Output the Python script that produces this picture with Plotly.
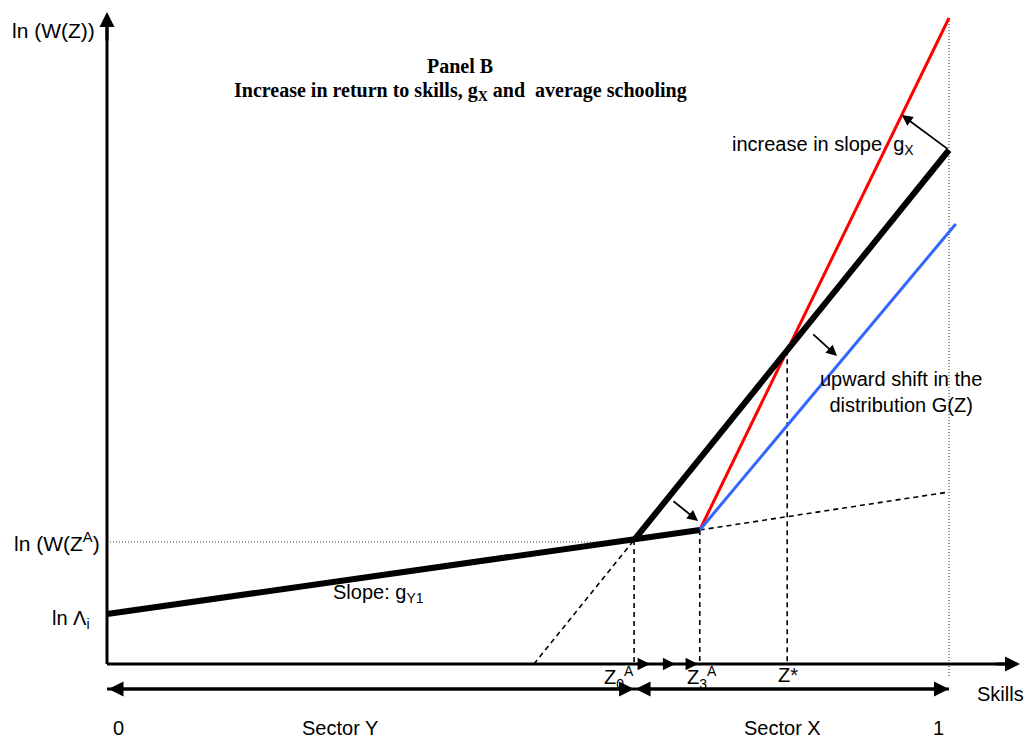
import plotly.graph_objects as go

# ---- schematic values (x: skills 0..1, y: ln wage, arbitrary units) ----
ln_lambda = 0.50           # intercept ln Λi
z0A = 0.626                # Z0^A
z3A = 0.704                # Z3^A
y_z0 = 1.24                # ln W at Z0^A
y_z3 = 1.34                # ln W at Z3^A
y_sectorY_end = 1.72       # extension of sector-Y line at skill 1
y_black_top = 5.14         # old sector-X schedule at skill 1
y_red_top = 6.46           # steeper (higher g_X) schedule at skill 1
blue_end_x = 1.008
blue_end_y = 4.40          # shifted-distribution schedule end
y_wza = 1.22               # dotted ln W(Z^A) reference level
y_axis_top = 6.52
x_axis_end = 1.0843
sector_arrow_y = -0.25
axis_arrow_marks = [0.645, 0.675, 0.702]

# lower (sector Y) thick line
sy_x = [0.0, z0A, z3A]
sy_y = [ln_lambda, y_z0, y_z3]
# steep black sector-X line
bx_x = [z0A, 1.0]
bx_y = [y_z0, y_black_top]
# red line
rx_x = [z3A, 1.0]
rx_y = [y_z3, y_red_top]
# blue line
bl_x = [z3A, blue_end_x]
bl_y = [y_z3, blue_end_y]

# derived: dashed extensions and Z*
slope_black = (y_black_top - y_z0) / (1.0 - z0A)
slope_red = (y_red_top - y_z3) / (1.0 - z3A)
x_black_zero = z0A - y_z0 / slope_black
z_star = ((y_z3 - slope_red * z3A) - (y_z0 - slope_black * z0A)) / (slope_black - slope_red)
y_star = y_z0 + slope_black * (z_star - z0A)

X0, X1 = -0.12708, 1.09264
Y0, Y1 = -0.74, 6.64

fig = go.Figure()

def line(xs, ys, color="black", width=2, dash="solid"):
    fig.add_trace(go.Scatter(x=xs, y=ys, mode="lines",
                             line=dict(color=color, width=width, dash=dash),
                             hoverinfo="skip", showlegend=False))

DASH = "5px,4px"
DOT = "1px,2px"
# dotted reference lines
line([0, z0A], [y_wza, y_wza], color="#444444", width=1, dash=DOT)
line([1.0, 1.0], [y_red_top, -0.14], color="#222222", width=1, dash=DOT)
# dashed lines
line([x_black_zero, z0A], [0, y_z0], width=1.6, dash=DASH)
line([z3A, 1.0], [y_z3, y_sectorY_end], width=1.6, dash=DASH)
line([z0A, z0A], [y_z0, 0], width=1.6, dash=DASH)
line([z3A, z3A], [y_z3, 0], width=1.6, dash=DASH)
line([z_star, z_star], [y_star, 0], width=1.6, dash=DASH)
# coloured schedules
line(rx_x, rx_y, color="#ff0000", width=3)
line(bl_x, bl_y, color="#3366ff", width=3)
# thick black
line(sy_x, sy_y, width=6)
line(bx_x, bx_y, width=6)
# axes
line([0, 0], [0, y_axis_top - 0.1], width=3)
line([0, x_axis_end - 0.01], [0, 0], width=3)
line([0, 1.0], [sector_arrow_y, sector_arrow_y], width=3)

ann = []
def arrow(x, y, ax, ay, width=1.6, size=1.0, head=2, side="end"):
    ann.append(dict(x=x, y=y, ax=ax, ay=ay, xref="x", yref="y", axref="x", ayref="y",
                    text="", showarrow=True, arrowhead=head, arrowsize=size,
                    arrowwidth=width, arrowcolor="black", arrowside=side, standoff=0,
                    startstandoff=0, startarrowhead=head, startarrowsize=size))

# axis arrowheads
arrow(0, y_axis_top, 0, y_axis_top - 0.3, width=3, size=1.0)
arrow(x_axis_end, 0, x_axis_end - 0.03, 0, width=3, size=1.0)
# sector double arrows
arrow(z0A, sector_arrow_y, 0.0, sector_arrow_y, width=3, size=1.0, side="end+start")
arrow(1.0, sector_arrow_y, z0A, sector_arrow_y, width=3, size=1.0, side="end+start")
# small arrows on the skills axis
for xa in axis_arrow_marks:
    arrow(xa, 0, xa - 0.012, 0, width=2.5, size=1.0)
# shift arrows
arrow(0.944, 5.49, 1.0, y_black_top, width=1.8, size=1.2)
arrow(0.867, 3.08, 0.837, 3.31, width=1.8, size=1.2)
arrow(0.702, 1.43, 0.671, 1.64, width=1.8, size=1.2)

F = "Liberation Sans, Arial, sans-serif"
def txt(x, y, s, size=20, xanchor="left", family=F, yanchor="middle"):
    ann.append(dict(x=x, y=y, xref="x", yref="y", text=s, showarrow=False,
                    xanchor=xanchor, yanchor=yanchor,
                    font=dict(family=family, size=size, color="black")))

txt(-0.012, 6.34, "ln (W(Z))", size=21, xanchor="right")
txt(-0.006, 1.22, "ln (W(Z<sup>A</sup>)", size=21, xanchor="right")
txt(-0.018, 0.45, "ln Λ<sub>i</sub>", xanchor="right")
txt(0.266, 0.71, "Slope: g<sub>Y1</sub>")
txt(0.588, -0.13, "Z<sub>0</sub><sup>A</sup>")
txt(0.687, -0.13, "Z<sub>3</sub><sup>A</sup>")
txt(0.795, -0.11, "Z*")
txt(1.031, -0.30, "Skills")
txt(0.014, -0.64, "0", xanchor="center")
txt(0.277, -0.64, "Sector Y", xanchor="center")
txt(0.802, -0.64, "Sector X", xanchor="center")
txt(0.987, -0.64, "1", xanchor="center")
txt(0.740, 5.19, "increase in slope  g<sub>X</sub>")
txt(0.845, 2.72, "upward shift in the<br>distribution G(Z)")

SERIF = "Liberation Serif, Times New Roman, serif"
ann.append(dict(x=(460 - 107) / 842, y=(664 - 66) / 100, xref="x", yref="y",
                text="<b>Panel B</b>", showarrow=False, xanchor="center",
                font=dict(family=SERIF, size=20, color="black")))
ann.append(dict(x=(460 - 107) / 842, y=(664 - 91) / 100, xref="x", yref="y",
                text="<b>Increase in return to skills, g<sub>X</sub> and  average schooling</b>",
                showarrow=False, xanchor="center",
                font=dict(family=SERIF, size=20, color="black")))

fig.update_layout(
    width=1027, height=738, autosize=False,
    margin=dict(l=0, r=0, t=0, b=0, pad=0),
    paper_bgcolor="white", plot_bgcolor="white",
    xaxis=dict(range=[X0, X1], visible=False, fixedrange=True),
    yaxis=dict(range=[Y0, Y1], visible=False, fixedrange=True),
    annotations=ann, showlegend=False,
)

fig.write_html("out.html", config={"displayModeBar": False},
               post_script="document.body.style.margin='0';document.body.style.overflow='hidden';")
